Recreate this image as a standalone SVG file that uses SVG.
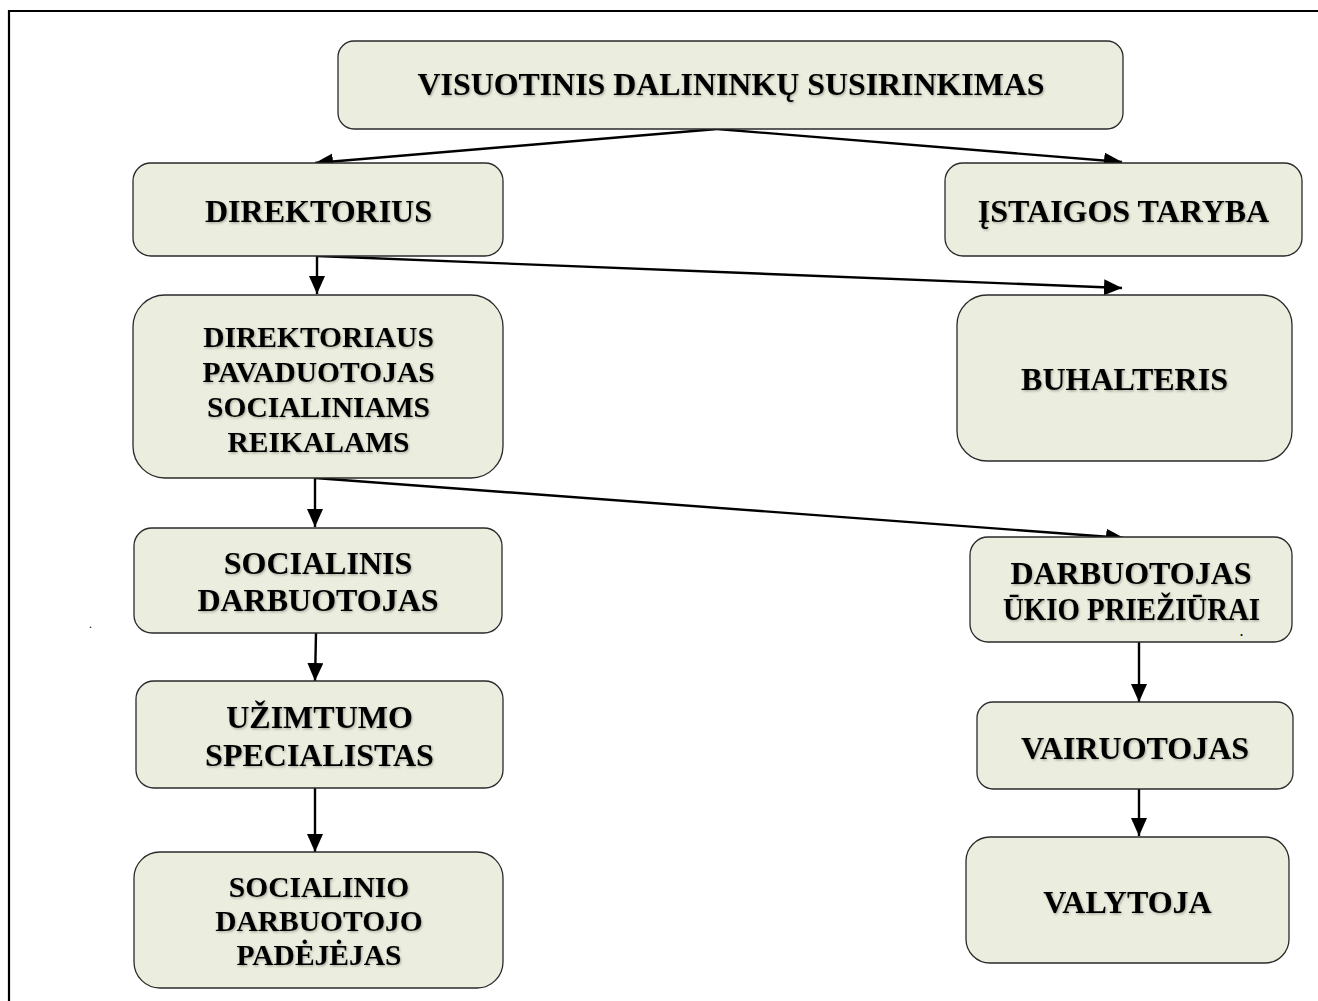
<svg xmlns="http://www.w3.org/2000/svg" width="1318" height="1001" viewBox="0 0 1318 1001">
<defs>
<style>
.box{fill:#EBEEDE;stroke:#2a2a2a;stroke-width:1.3}
.t{font-family:"Liberation Serif","Times New Roman",serif;font-weight:bold;font-size:32px;fill:#000;text-anchor:middle;filter:url(#sh)}
.s{font-size:29.5px}
.c{fill:none;stroke:#000;stroke-width:2.4}
</style>
<filter id="sh" x="-5%" y="-20%" width="110%" height="150%">
<feDropShadow dx="1" dy="1.3" stdDeviation="0.8" flood-color="#000" flood-opacity="0.3"/>
</filter>
<marker id="ah" markerUnits="userSpaceOnUse" markerWidth="20" markerHeight="18" refX="18" refY="8" orient="auto">
<path d="M0,0 L18,8 L0,16 Z" fill="#000"/>
</marker>
</defs>
<rect width="1318" height="1001" fill="#fff"/>
<path d="M9,1001 V11 H1318" fill="none" stroke="#000" stroke-width="2.2"/>

<g id="connectors">
<path class="c" d="M717,129 L315,163" marker-end="url(#ah)"/>
<path class="c" d="M717,129 L1122,162" marker-end="url(#ah)"/>
<path class="c" d="M317,256 V294" marker-end="url(#ah)"/>
<path class="c" d="M317,256 L1122,288" marker-end="url(#ah)"/>
<path class="c" d="M315,478 V527" marker-end="url(#ah)"/>
<path class="c" d="M315,478 L1124,538" marker-end="url(#ah)"/>
<path class="c" d="M316,633 L315,681" marker-end="url(#ah)"/>
<path class="c" d="M315,788 V852" marker-end="url(#ah)"/>
<path class="c" d="M1139,642 V702" marker-end="url(#ah)"/>
<path class="c" d="M1139,789 V836" marker-end="url(#ah)"/>
</g>

<g id="n-visuotinis">
<rect class="box" x="338" y="41" width="785" height="88" rx="16"/>
<text class="t" x="731" y="95" font-size="34" textLength="627" lengthAdjust="spacingAndGlyphs">VISUOTINIS DALININKŲ SUSIRINKIMAS</text>
</g>
<g id="n-direktorius">
<rect class="box" x="133" y="163" width="370" height="93" rx="18"/>
<text class="t" x="318.5" y="222">DIREKTORIUS</text>
</g>
<g id="n-taryba">
<rect class="box" x="945" y="163" width="357" height="93" rx="18"/>
<text class="t" x="1123.5" y="222">ĮSTAIGOS TARYBA</text>
</g>
<g id="n-pavaduotojas">
<rect class="box" x="133" y="295" width="370" height="183" rx="32"/>
<text class="t s" x="318.5" y="347">DIREKTORIAUS</text>
<text class="t s" x="318.5" y="382">PAVADUOTOJAS</text>
<text class="t s" x="318.5" y="417">SOCIALINIAMS</text>
<text class="t s" x="318.5" y="452">REIKALAMS</text>
</g>
<g id="n-buhalteris">
<rect class="box" x="957" y="295" width="335" height="166" rx="30"/>
<text class="t" x="1124.5" y="390">BUHALTERIS</text>
</g>
<g id="n-socialinis">
<rect class="box" x="134" y="528" width="368" height="105" rx="18"/>
<text class="t" x="318" y="574">SOCIALINIS</text>
<text class="t" x="318" y="611">DARBUOTOJAS</text>
</g>
<g id="n-ukio">
<rect class="box" x="970" y="537" width="322" height="105" rx="18"/>
<text class="t" x="1131" y="584">DARBUOTOJAS</text>
<text class="t" x="1131.5" y="620" textLength="257" lengthAdjust="spacingAndGlyphs">ŪKIO PRIEŽIŪRAI</text>
<text x="1240" y="636" font-family="Liberation Serif, serif" font-size="12" font-weight="bold">.</text>
</g>
<g id="n-uzimtumo">
<rect class="box" x="136" y="681" width="367" height="107" rx="18"/>
<text class="t" x="319.5" y="728">UŽIMTUMO</text>
<text class="t" x="319.5" y="766">SPECIALISTAS</text>
</g>
<g id="n-vairuotojas">
<rect class="box" x="977" y="702" width="316" height="87" rx="16"/>
<text class="t" x="1135" y="759">VAIRUOTOJAS</text>
</g>
<g id="n-padejejas">
<rect class="box" x="134" y="852" width="369" height="136" rx="26"/>
<text class="t s" x="319" y="897">SOCIALINIO</text>
<text class="t s" x="319" y="931">DARBUOTOJO</text>
<text class="t s" x="319" y="965">PADĖJĖJAS</text>
</g>
<g id="n-valytoja">
<rect class="box" x="966" y="837" width="323" height="126" rx="24"/>
<text class="t" x="1127.5" y="913">VALYTOJA</text>
</g>
<text x="89" y="628" font-family="Liberation Serif, serif" font-size="12">.</text>
</svg>
